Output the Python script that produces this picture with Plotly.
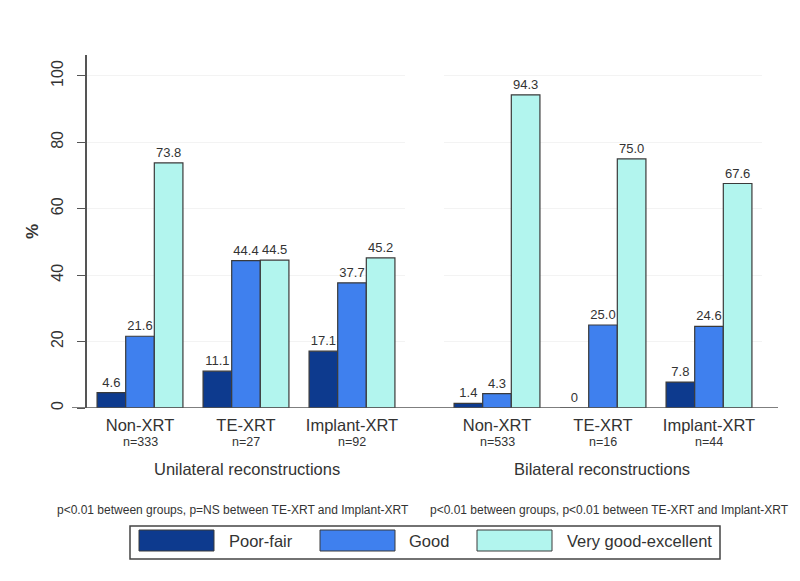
import plotly.graph_objects as go

# ---- data ----
groups = ["Unilateral reconstructions", "Bilateral reconstructions"]
categories = ["Non-XRT", "TE-XRT", "Implant-XRT"]
n_uni = [333, 27, 92]
n_bil = [533, 16, 44]
series = ["Poor-fair", "Good", "Very good-excellent"]
uni_poor = [4.6, 11.1, 17.1]
uni_good = [21.6, 44.4, 37.7]
uni_vg = [73.8, 44.5, 45.2]
bil_poor = [1.4, 0, 7.8]
bil_good = [4.3, 25.0, 24.6]
bil_vg = [94.3, 75.0, 67.6]
pvals = ["p<0.01 between groups, p=NS between TE-XRT and Implant-XRT",
         "p<0.01 between groups, p<0.01 between TE-XRT and Implant-XRT"]

colors = ["#0d3a8e", "#3f80ee", "#b2f5ee"]
FONT = "Liberation Sans, Arial, sans-serif"
TXT = "#333333"
L, R, T, B = 72, 22, 55, 173
PW, PH = 800 - L - R, 581 - T - B

def px(x):
    return (x - L) / PW

def py(y):
    return (581 - B - y) / PH

def lab(v):
    return "0" if v == 0 else f"{v:.1f}"

fig = go.Figure()
sets = [("x", [uni_poor, uni_good, uni_vg], n_uni), ("x2", [bil_poor, bil_good, bil_vg], n_bil)]
for xa, vals, ns in sets:
    for i, s in enumerate(series):
        fig.add_trace(go.Bar(
            x=categories, y=vals[i], name=s, xaxis=xa, yaxis="y",
            marker=dict(color=colors[i], line=dict(color="#3a3a3a", width=1.2)),
            text=[lab(v) for v in vals[i]], textposition="outside",
            textfont=dict(size=13, color=TXT, family=FONT),
            cliponaxis=False, showlegend=False, offsetgroup=str(i),
        ))
    for c, n in zip(categories, ns):
        fig.add_annotation(text=f"n={n}", xref=xa, yref="paper", x=c, y=py(442),
                           xanchor="center", yanchor="middle", showarrow=False,
                           font=dict(size=12.5, color=TXT))

xcommon = dict(showline=False, ticks="", showgrid=False, zeroline=False,
               tickfont=dict(size=16.5, color=TXT, family=FONT), anchor="y",
               automargin=False, fixedrange=True, ticklabelstandoff=5)

fig.update_layout(
    width=800, height=581,
    paper_bgcolor="white", plot_bgcolor="white",
    margin=dict(l=L, r=R, t=T, b=B, autoexpand=False),
    barmode="group", bargap=0.19, bargroupgap=0,
    font=dict(family=FONT, color=TXT),
    xaxis=dict(domain=[px(87), px(405)], **xcommon),
    xaxis2=dict(domain=[px(444), px(762)], **xcommon),
    yaxis=dict(range=[0, 106.3], tickvals=[0, 20, 40, 60, 80, 100], tickangle=-90,
               ticks="outside", ticklen=8, tickcolor="#555", showline=True,
               linecolor="#555", linewidth=1.5, gridcolor="#f3f3f3", zeroline=False,
               automargin=False, ticklabelstandoff=8,
               tickfont=dict(size=16, color=TXT, family=FONT),
               title=dict(text="<b>%</b>", font=dict(size=17, color=TXT), standoff=6)),
    showlegend=False,
)

# x axis baseline across the whole plot area
fig.add_shape(type="line", xref="paper", yref="y", x0=0, x1=1, y0=0, y1=0,
              line=dict(color="#555", width=1.5))

# group titles
for gx, g in zip([247, 602], groups):
    fig.add_annotation(text=g, xref="paper", yref="paper", x=px(gx), y=py(469),
                       xanchor="center", yanchor="middle", showarrow=False,
                       font=dict(size=16.5, color=TXT))

# p-value notes
for x0, p in zip([55, 428], pvals):
    fig.add_annotation(text=p, xref="paper", yref="paper", x=px(x0), y=py(510),
                       xanchor="left", yanchor="middle", showarrow=False,
                       font=dict(size=12, color=TXT))

# custom legend
fig.add_shape(type="rect", xref="paper", yref="paper", x0=px(130), x1=px(720),
              y0=py(559), y1=py(526), line=dict(color="#444", width=1.5),
              fillcolor="white")
sw = [(139, 214, 227), (320, 395, 407), (477, 552, 565)]
for (a, b, t), s, c in zip(sw, series, colors):
    fig.add_shape(type="rect", xref="paper", yref="paper",
                  x0=px(a), x1=px(b), y0=py(551), y1=py(530),
                  fillcolor=c, line=dict(color="#3a3a3a", width=1))
    fig.add_annotation(text=s, xref="paper", yref="paper", x=px(t),
                       y=py(541), xanchor="left", yanchor="middle", showarrow=False,
                       font=dict(size=16.5, color=TXT))

fig.write_html("out.html", config={"displayModeBar": False},
               post_script="document.body.style.margin='0';")
